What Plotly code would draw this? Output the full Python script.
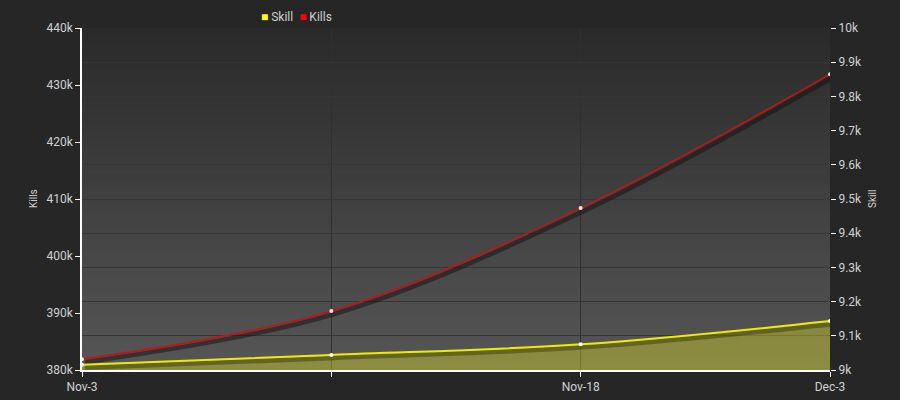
import plotly.graph_objects as go

# chart data
dates = ["Nov-3", "", "Nov-18", "Dec-3"]
kills = [381900, 390350, 408400, 431900]
skill = [9015, 9044, 9075, 9143]

kills_range = [380000, 440000]
skill_range = [9000, 10000]

# plot box in pixels, used to turn a pixel offset into axis units for the drop shadow
plot_w, plot_h = 748, 342
shadow_px = 3

idx = list(range(len(dates)))
x_range = [0, len(dates) - 1]
dx = shadow_px * (x_range[1] - x_range[0]) / plot_w
dk = shadow_px * (kills_range[1] - kills_range[0]) / plot_h
ds = shadow_px * (skill_range[1] - skill_range[0]) / plot_h

font = "Roboto"
text_col = "#d0d0d0"

fig = go.Figure()

# empty trace so the left (kills) axis gets drawn
fig.add_trace(go.Scatter(x=[None], y=[None], xaxis="x", yaxis="y",
                         showlegend=False, hoverinfo="skip"))

# skill area fill (drawn first so everything sits on top of it)
fig.add_trace(go.Scatter(
    x=idx, y=skill, xaxis="x", yaxis="y2", mode="lines",
    line=dict(width=0, shape="spline"), fill="tozeroy",
    fillcolor="rgba(235,235,30,0.36)", showlegend=False, hoverinfo="skip",
))

# drop shadows
fig.add_trace(go.Scatter(
    x=idx, y=kills, xaxis="x2", yaxis="y3", mode="lines",
    line=dict(width=4.5, color="rgba(15,15,15,0.5)", shape="spline"),
    showlegend=False, hoverinfo="skip",
))
fig.add_trace(go.Scatter(
    x=idx, y=skill, xaxis="x2", yaxis="y4", mode="lines",
    line=dict(width=4.5, color="rgba(40,40,0,0.4)", shape="spline"),
    showlegend=False, hoverinfo="skip",
))

# the real lines
fig.add_trace(go.Scatter(
    x=idx, y=skill, xaxis="x3", yaxis="y6", mode="lines+markers", name="Skill",
    line=dict(width=2, color="#ecec00", shape="spline"),
    marker=dict(size=4, color="#ffffe0"), showlegend=False,
))
fig.add_trace(go.Scatter(
    x=idx, y=kills, xaxis="x3", yaxis="y5", mode="lines+markers", name="Kills",
    line=dict(width=1.6, color="#cc1010", shape="spline"),
    marker=dict(size=4, color="#ffe0e0"), showlegend=False,
))

# background gradient, dark at the top and lighter at the bottom
steps = 60
top_c, bot_c = 42, 86
for i in range(steps):
    c = round(top_c + (bot_c - top_c) * (i + 0.5) / steps)
    fig.add_shape(
        type="rect", xref="paper", yref="paper", layer="below",
        x0=0, x1=1, y0=1 - (i + 1) / steps, y1=1 - i / steps + 0.002,
        fillcolor=f"rgb({c},{c},{c})", line_width=0,
    )

# compact legend drawn as text
fig.add_annotation(
    xref="paper", yref="paper", x=0.237, y=1.0, xanchor="left", yanchor="bottom",
    text=("<span style='color:#ffff00'>■</span> Skill  "
          "<span style='color:#ff0000'>■</span> Kills"),
    showarrow=False, font=dict(size=12, color=text_col), yshift=2,
)

# axis titles
fig.add_annotation(xref="paper", yref="paper", x=-0.0655, y=0.5, text="Kills",
                   xanchor="center", yanchor="middle", textangle=-90,
                   showarrow=False, font=dict(size=10, color=text_col))
fig.add_annotation(xref="paper", yref="paper", x=1.0561, y=0.5, text="Skill",
                   xanchor="center", yanchor="middle", textangle=-90,
                   showarrow=False, font=dict(size=10, color=text_col))

hidden = dict(visible=False, showgrid=False, zeroline=False)

fig.update_layout(
    width=900, height=400,
    margin=dict(l=82, r=70, t=28, b=30),
    paper_bgcolor="#262626",
    plot_bgcolor="rgba(0,0,0,0)",
    font=dict(family=font, size=12, color=text_col),
    showlegend=False,
    xaxis=dict(
        range=x_range, tickmode="array", tickvals=idx, ticktext=dates,
        showgrid=True, gridcolor="#303030", gridwidth=1,
        showline=True, linecolor="#ffffff", linewidth=1.5,
        ticks="outside", tickcolor="#ffffff", ticklen=5,
        zeroline=False, fixedrange=True, automargin=False,
    ),
    yaxis=dict(
        range=kills_range, dtick=10000, tickformat="~s",
        showgrid=False, zeroline=False, automargin=False,
        showline=True, linecolor="#ffffff", linewidth=1.5,
        ticks="outside", tickcolor="#ffffff", ticklen=5,
    ),
    yaxis2=dict(
        range=skill_range, dtick=100, tickformat="~s", overlaying="y", side="right",
        showgrid=True, gridcolor="#363636", gridwidth=1.2, zeroline=False,
        showline=False, ticks="outside", tickcolor="#ffffff", ticklen=5,
        automargin=False,
    ),
    xaxis2=dict(range=[x_range[0] - dx, x_range[1] - dx], overlaying="x", **hidden),
    yaxis3=dict(range=[kills_range[0] + dk, kills_range[1] + dk], overlaying="y", **hidden),
    yaxis4=dict(range=[skill_range[0] + ds, skill_range[1] + ds], overlaying="y", **hidden),
    xaxis3=dict(range=x_range, overlaying="x", **hidden),
    yaxis5=dict(range=kills_range, overlaying="y", **hidden),
    yaxis6=dict(range=skill_range, overlaying="y", **hidden),
)

fig.write_html(
    "out.html",
    config={"displayModeBar": False},
    post_script="document.body.style.margin='0';document.body.style.overflow='hidden';",
)
